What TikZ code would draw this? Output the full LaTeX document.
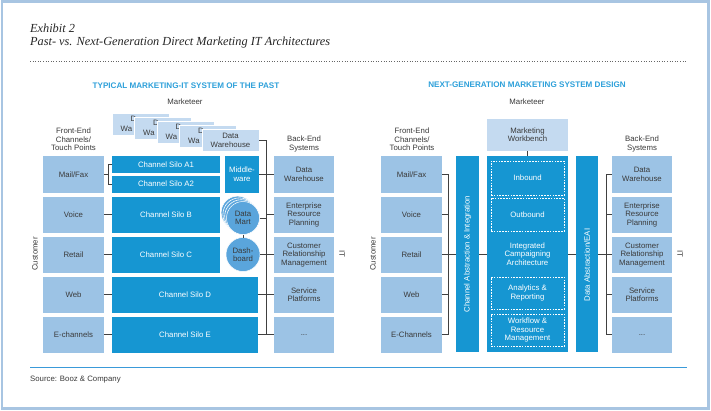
\documentclass[tikz,border=0pt]{standalone}
\usepackage{fontspec}
\setmainfont{Liberation Sans}
\newfontfamily\titlefont{Liberation Serif}
\definecolor{silo}{HTML}{1696D2}
\definecolor{feblue}{HTML}{9CC3E5}
\definecolor{pale}{HTML}{C4DAF0}
\definecolor{circ}{HTML}{5AA5DC}
\definecolor{ttlblue}{HTML}{2DA0DA}
\definecolor{txtgray}{HTML}{3A3A3A}
\definecolor{lineg}{HTML}{404040}
\definecolor{frame}{HTML}{A8C5E2}
\definecolor{srcline}{HTML}{3A9AD9}
\newcommand{\txt}{\fontsize{7.8}{8.4}\selectfont}
\begin{document}
\begin{tikzpicture}[x=1pt,y=-1pt,
  box/.style={inner sep=0pt, outer sep=0pt, anchor=north west, align=center, font=\txt},
  fe/.style={box, fill=feblue, text=txtgray, minimum width=61pt, minimum height=36.5pt},
  be/.style={fe, minimum width=60pt},
  silobox/.style={box, fill=silo, text=white},
  dwbox/.style={box, fill=pale, draw=white, line width=0.8pt, text=txtgray, minimum width=57pt, minimum height=22.5pt},
  frag/.style={anchor=base west, inner sep=0pt, font=\txt, text=txtgray},
  dashbox/.style={box, draw=white, line width=0.8pt, dash pattern=on 1.6pt off 1.2pt, text=white, minimum width=73pt},
  circnode/.style={circle, fill=circ, draw=white, line width=0.5pt, inner sep=0pt, outer sep=0pt, minimum size=33pt, align=center, font=\txt, text=txtgray},
  conn/.style={draw=lineg, line width=0.8pt},
  lbl/.style={align=center, font=\txt, text=txtgray, inner sep=0pt},
  ttl/.style={font=\bfseries\fontsize{8.1}{9}\selectfont, text=ttlblue, inner sep=0pt, anchor=base}
]
\useasboundingbox (0,0) rectangle (711,410);
\fill[white] (0,0) rectangle (711,410);
\draw[frame, line width=2.5pt] (2,1.5) rectangle (708.5,408.5);

% header
\node[anchor=base west, inner sep=0pt, font=\titlefont\itshape\fontsize{12.3}{14}\selectfont, text=black!85] (exh) at (30,32.5) {Exhibit 2};
\node[anchor=base west, inner sep=0pt, font=\titlefont\itshape\fontsize{12.3}{14}\selectfont, text=black!85] (sub) at (30,45.7) {Past- vs. Next-Generation Direct Marketing IT Architectures};
\draw[black!60, line width=0.6pt, dotted] (30,61) -- (686,61);

% ===== left diagram =====
\node[ttl] (ttlL) at (186,88) {TYPICAL MARKETING-IT SYSTEM OF THE PAST};
\node[lbl, anchor=base] (mkL) at (185,104.5) {Marketeer};
\node[lbl] (feL) at (73.5,139.5) {Front-End\\Channels/\\Touch Points};
\node[lbl] (beL) at (304,144) {Back-End\\Systems};
\node[lbl, rotate=90] (custL) at (35,254) {Customer};
\node[lbl, rotate=-90] (itL) at (342,254) {IT};

\node[dwbox] (dw1) at (112,113) {};
\node[frag] (dw1a) at (130.5,121.5) {D};
\node[frag] (dw1b) at (120.5,131.25) {Wa};
\node[dwbox] (dw2) at (134.5,117) {};
\node[frag] (dw2a) at (153,125.5) {D};
\node[frag] (dw2b) at (143,135.25) {Wa};
\node[dwbox] (dw3) at (157,121) {};
\node[frag] (dw3a) at (175.5,129.5) {D};
\node[frag] (dw3b) at (165.5,139.25) {Wa};
\node[dwbox] (dw4) at (179.5,125) {};
\node[frag] (dw4a) at (198,133.5) {D};
\node[frag] (dw4b) at (188,143.25) {Wa};
\node[dwbox] (dw5) at (202,129) {Data\\Warehouse};

\node[fe] (lmf) at (43,156) {Mail/Fax};
\node[fe] (lvo) at (43,196.5) {Voice};
\node[fe] (lrt) at (43,236.5) {Retail};
\node[fe] (lwb) at (43,276.5) {Web};
\node[fe] (lec) at (43,316.5) {E-channels};

\node[silobox, minimum width=108pt, minimum height=17pt] (la1) at (112,156) {Channel Silo A1};
\node[silobox, minimum width=108pt, minimum height=17pt] (la2) at (112,175.5) {Channel Silo A2};
\node[silobox, minimum width=108pt, minimum height=36.5pt] (lsb) at (112,196.5) {Channel Silo B};
\node[silobox, minimum width=108pt, minimum height=36.5pt] (lsc) at (112,236.5) {Channel Silo C};
\node[silobox, minimum width=146pt, minimum height=36.5pt] (lsd) at (112,276.5) {Channel Silo D};
\node[silobox, minimum width=146pt, minimum height=36.5pt] (lse) at (112,316.5) {Channel Silo E};
\node[silobox, minimum width=34pt, minimum height=36.5pt] (mw) at (225,156) {Middle-\\ware};

\foreach \d in {5.4,3.6,1.8} \filldraw[fill=circ, draw=white, line width=0.6pt] (243-\d,218-\d) circle (16.5);
\node[circnode] (dm) at (243,218) {Data\\Mart};
\node[circnode, minimum size=34pt] (db) at (243,254.5) {Dash-\\board};

\node[be] (lb1) at (274,156) {Data\\Warehouse};
\node[be] (lb2) at (274,196.5) {Enterprise\\Resource\\Planning};
\node[be] (lb3) at (274,236.5) {Customer\\Relationship\\Management};
\node[be] (lb4) at (274,276.5) {Service\\Platforms};
\node[be] (lb5) at (274,316.5) {...};

% left connectors
\draw[conn] (lmf.east) -- ++(4.5,0) coordinate (lbr);
\draw[conn] ([xshift=0.4pt]la1.west) -- (la1.west -| lbr) -- (la2.west -| lbr) -- ([xshift=0.4pt]la2.west);
\draw[conn] (lvo.east) -- (lsb.west);
\draw[conn] (lrt.east) -- (lsc.west);
\draw[conn] (lwb.east) -- (lsd.west);
\draw[conn] (lec.east) -- (lse.west);
\coordinate (lbus) at (266,0);
\draw[conn] (dw5.east) -| (lbus |- lb5.west);
\foreach \i in {1,...,5} \draw[conn] (lb\i.west -| lbus) -- (lb\i.west);
\draw[conn] (mw.east) -- (mw.east -| lbus);
\draw[conn] (dm.east) -- (dm.east -| lbus);
\draw[conn] (db.east) -- (db.east -| lbus);
\draw[conn] (lsd.east) -- (lsd.east -| lbus);
\draw[conn] (lse.east) -- (lse.east -| lbus);
\draw[conn] (dm) -- (db);

% ===== right diagram =====
\node[ttl] (ttlR) at (527,87.5) {NEXT-GENERATION MARKETING SYSTEM DESIGN};
\node[lbl, anchor=base] (mkR) at (527,104.5) {Marketeer};
\node[lbl] (feR) at (412,139.5) {Front-End\\Channels/\\Touch Points};
\node[lbl] (beR) at (642,144) {Back-End\\Systems};
\node[lbl, rotate=90] (custR) at (373,254) {Customer};
\node[lbl, rotate=-90] (itR) at (680,254) {IT};

\node[box, fill=pale, text=txtgray, minimum width=81pt, minimum height=32pt] (wb) at (487,119) {Marketing\\Workbench};

\node[fe] (rmf) at (381,156) {Mail/Fax};
\node[fe] (rvo) at (381,196.5) {Voice};
\node[fe] (rrt) at (381,236.5) {Retail};
\node[fe] (rwb) at (381,276.5) {Web};
\node[fe] (rec) at (381,316.5) {E-Channels};

\node[silobox, minimum width=23pt, minimum height=196pt] (cai) at (456,156) {};
\node[rotate=90, font=\txt, text=white, inner sep=0pt] (caitxt) at (cai.center) {Channel Abstraction \& Integration};
\node[silobox, minimum width=81pt, minimum height=196pt] (cen) at (487,156) {};
\node[dashbox, minimum height=34pt] (inb) at (491,161) {Inbound};
\node[dashbox, minimum height=33pt] (outb) at (491,198) {Outbound};
\node[font=\txt, text=white, align=center, inner sep=0pt] (ica) at (527.5,254) {Integrated\\Campaigning\\Architecture};
\node[dashbox, minimum height=32pt] (anr) at (491,277) {Analytics \&\\Reporting};
\node[dashbox, minimum height=32pt] (wrm) at (491,314) {Workflow \&\\Resource\\Management};
\node[silobox, minimum width=22pt, minimum height=196pt] (dae) at (576,156) {};
\node[rotate=90, font=\txt, text=white, inner sep=0pt] (daetxt) at ([yshift=-11pt]dae.center) {Data Abstraction/EAI};

\node[be] (rb1) at (612,156) {Data\\Warehouse};
\node[be] (rb2) at (612,196.5) {Enterprise\\Resource\\Planning};
\node[be] (rb3) at (612,236.5) {Customer\\Relationship\\Management};
\node[be] (rb4) at (612,276.5) {Service\\Platforms};
\node[be] (rb5) at (612,316.5) {...};

% right connectors
\coordinate (rbusA) at (448,0);
\coordinate (rbusB) at (606,0);
\draw[conn] (rmf.east -| rbusA) -- (rec.east -| rbusA);
\foreach \n in {rmf,rvo,rwb,rec} \draw[conn] (\n.east) -- (\n.east -| rbusA);
\draw[conn] (rrt.east) -- (rrt.east -| cai.west);
\draw[conn] (cai.east) -- (cen.west);
\draw[conn] (cen.east) -- (dae.west);
\draw[conn] (dae.east) -- (dae.east -| rbusB);
\draw[conn] (rb1.west -| rbusB) -- (rb5.west -| rbusB);
\foreach \i in {1,...,5} \draw[conn] (rb\i.west -| rbusB) -- (rb\i.west);
\draw[conn] (wb.south) -- (cen.north);

% footer
\draw[srcline, line width=0.8pt] (30,367) -- (687,367);
\node[anchor=base west, inner sep=0pt, font=\txt, text=txtgray] (src) at (30,381) {Source: Booz \& Company};
\end{tikzpicture}
\end{document}
